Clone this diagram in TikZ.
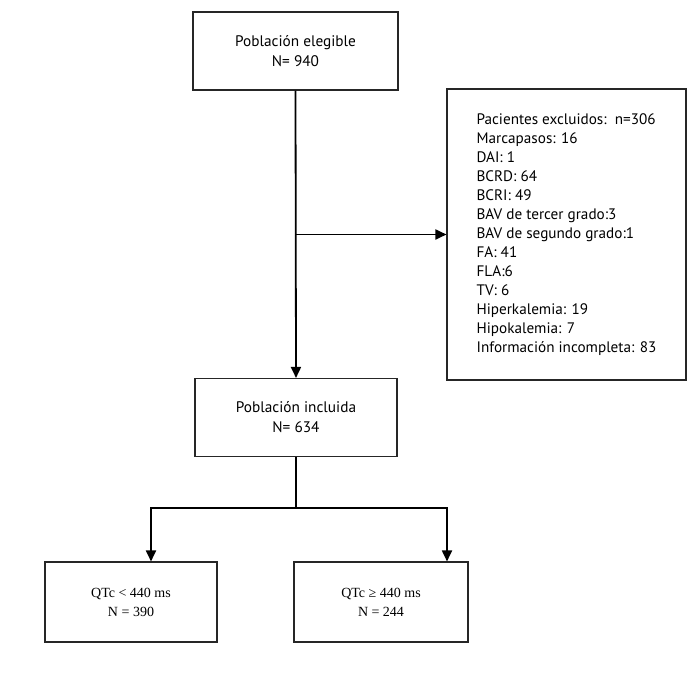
\documentclass[tikz,border=0pt]{standalone}
\usepackage{fontspec}
\setmainfont{Liberation Serif}
\newfontfamily\flowsans{PT Sans}
\usepackage{tikz}
\usetikzlibrary{arrows.meta, positioning}

\begin{document}
\begin{tikzpicture}[
    x=1pt, y=-1pt,
    box/.style={draw=black!85, line width=1.1pt, rectangle, inner sep=0pt, align=center, font=\flowsans\fontsize{15.3}{20}\selectfont},
    qtcbox/.style={box, font=\fontsize{14}{19}\selectfont},
    line/.style={line width=1.8pt},
    arrow/.style={line, -{Triangle[length=11pt, width=10pt]}}
]
\useasboundingbox (0,0) rectangle (700,674);

\node[box, minimum width=205pt, minimum height=78pt] (elegible) at (295.5, 51) {Población elegible\\N= 940};
\node[box, minimum width=239pt, minimum height=291pt, align=left, font=\flowsans\fontsize{15.2}{19}\selectfont] (excluidos) at (566.5, 234.5) {Pacientes excluidos:\ \ n=306\\Marcapasos: 16\\DAI: 1\\BCRD: 64\\BCRI: 49\\BAV de tercer grado:3\\BAV de segundo grado:1\\FA: 41\\FLA:6\\TV: 6\\Hiperkalemia: 19\\Hipokalemia: 7\\Información incompleta: 83};
\node[box, minimum width=202pt, minimum height=78pt] (incluida) at (296, 417.5) {Población incluida\\N= 634};

\node[qtcbox, minimum width=172pt, minimum height=80pt] (qtcbajo) at (131, 602) {QTc < 440 ms\\N = 390};
\node[qtcbox, minimum width=174pt, minimum height=80pt] (qtcalto) at (381, 602) {QTc ≥ 440 ms\\N = 244};

\coordinate (split) at (296, 508);

\draw[arrow] (elegible.south) -- (incluida.north);
\draw[arrow] (excluidos.west -| elegible.south) -- (excluidos.west);
\draw[line] (incluida.south) -- (split);
\draw[arrow] (split) -| ([xshift=20pt]qtcbajo.north);
\draw[arrow] (split) -| ([xshift=66pt]qtcalto.north);

\end{tikzpicture}
\end{document}
